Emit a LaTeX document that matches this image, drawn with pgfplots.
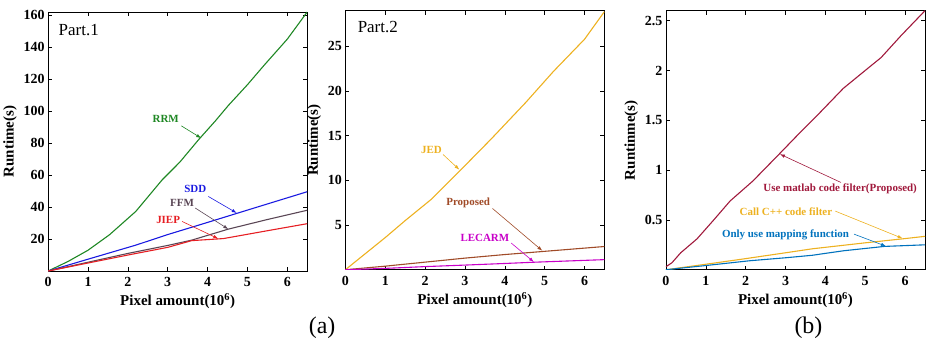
\documentclass[border=0pt]{standalone}
\usepackage{fontspec}
\setmainfont{Liberation Serif}
\usepackage{pgfplots}
\pgfplotsset{compat=1.18}
\usetikzlibrary{arrows.meta}
\definecolor{cgreen}{RGB}{30,135,35}
\definecolor{cblue}{RGB}{25,25,225}
\definecolor{cffm}{RGB}{90,70,85}
\definecolor{cred}{RGB}{230,30,35}
\definecolor{cjed}{RGB}{237,177,32}
\definecolor{cprop}{RGB}{160,75,40}
\definecolor{clec}{RGB}{200,0,200}
\definecolor{cmat}{RGB}{160,25,60}
\definecolor{ccpp}{RGB}{237,177,32}
\definecolor{cmap}{RGB}{0,114,189}
\tikzset{
  ann/.style={font=\fontsize{11}{13}\selectfont\bfseries},
  arr/.style={-{Latex[length=5pt,width=3.5pt]}, line width=0.6pt},
}
\pgfplotsset{
  myax/.style={
    scale only axis, width=260pt, height=260pt,
    xmin=0, xmax=6.5, ymin=0, xtick={0,1,...,6},
    tick align=inside, major tick length=4pt,
    tick style={black, line width=0.6pt},
    axis line style={line width=0.8pt},
    /pgf/number format/assume math mode=true,
    ticklabel style={font=\fontsize{14}{16}\selectfont\bfseries},
    xticklabel style={yshift=-3pt},
    label style={font=\fontsize{15}{17}\selectfont\bfseries},
    xlabel={Pixel amount(10\textsuperscript{6})},
    every axis plot/.append style={line width=1.1pt, no marks},
  },
}
\begin{document}
\begin{tikzpicture}
\path (0,0) rectangle (928pt,341pt);
% Panel 1
\begin{axis}[myax, at={(45pt,69pt)}, anchor=south west, ymax=162,
  ytick={20,40,...,160}, ylabel={Runtime(s)}]
\addplot[cgreen] coordinates {(0,0) (0.5,6) (1,13) (1.54,22.7) (2.2,37.3) (2.86,57) (3.3,68) (3.77,82) (4.2,94) (4.52,103.5) (5,116.5) (5.43,129) (6,145) (6.5,162)};
\addplot[cblue] coordinates {(0,0) (1,7.4) (2.2,16.2) (3,22.8) (4,30.4) (5,38.1) (6.5,49.6)};
\addplot[cffm] coordinates {(0,0) (1,5.5) (2,11) (3,16) (3.6,19.3) (4.52,26.2) (5.5,32.2) (6.5,38)};
\addplot[cred] coordinates {(0,0) (1,5) (2,10) (3,14.8) (3.6,19) (4.4,20.3) (5.5,25.2) (6.5,29.6)};
\node[ann, text=cgreen] at (axis cs:2.95,94.9) {RRM};
\node[ann, text=cblue] at (axis cs:3.69,51.3) {SDD};
\node[ann, text=cffm] at (axis cs:3.36,42.7) {FFM};
\node[ann, text=cred] at (axis cs:3.01,32) {JIEP};
\draw[arr, cgreen] (axis cs:3.34,90.8) -- (axis cs:3.84,83.1);
\draw[arr, cblue] (axis cs:4.02,46.6) -- (axis cs:4.73,36.3);
\draw[arr, cffm] (axis cs:3.69,39.4) -- (axis cs:4.52,26.2);
\draw[arr, cred] (axis cs:3.36,31) -- (axis cs:4.27,20.2);
\node[font=\fontsize{17}{19}\selectfont, anchor=center] at (rel axis cs:0.118,0.932) {Part.1};
\end{axis}
% Panel 2
\begin{axis}[myax, at={(343.3pt,70.3pt)}, anchor=south west, ymax=29,
  ytick={5,10,15,20,25}, ylabel={Runtime(s)}]
\addplot[cjed] coordinates {(0,0) (0.5,1.8) (1,3.6) (1.5,5.5) (2.16,7.9) (2.9,11.2) (3.65,14.6) (4.52,18.7) (5.22,22.2) (6,25.8) (6.5,28.9)};
\addplot[cprop] coordinates {(0,0) (1,0.4) (2,0.85) (3,1.3) (4,1.7) (5,2.06) (6.5,2.6)};
\addplot[clec] coordinates {(0,0) (1,0.15) (2,0.35) (3,0.52) (4,0.7) (4.73,0.84) (6.5,1.13)};
\node[ann, text=cjed] at (axis cs:2.16,13.4) {JED};
\node[ann, text=cprop] at (axis cs:3.08,7.45) {Proposed};
\node[ann, text=clec] at (axis cs:3.5,3.55) {LECARM};
\draw[arr, cjed] (axis cs:2.45,12.9) -- (axis cs:2.86,11.2);
\draw[arr, cprop] (axis cs:3.69,6.86) -- (axis cs:4.94,2.13);
\draw[arr, clec] (axis cs:4.16,2.99) -- (axis cs:4.73,0.86);
\node[font=\fontsize{17}{19}\selectfont, anchor=center] at (rel axis cs:0.125,0.935) {Part.2};
\end{axis}
% Panel 3
\begin{axis}[myax, at={(665pt,70.3pt)}, anchor=south west, ymax=2.6,
  ytick={0.5,1,1.5,2,2.5}, ylabel={Runtinme(s)}]
\addplot[cmat] coordinates {(0,0.03) (0.15,0.07) (0.37,0.17) (0.78,0.31) (1.2,0.5) (1.61,0.69) (2.18,0.89) (2.84,1.16) (3.3,1.35) (3.75,1.53) (4.45,1.82) (5,2.0) (5.4,2.13) (5.9,2.35) (6.5,2.6)};
\addplot[ccpp] coordinates {(0,0) (1,0.055) (1.94,0.108) (3,0.17) (3.67,0.21) (5,0.27) (5.94,0.31) (6.5,0.335)};
\addplot[cmap] coordinates {(0,0) (0.95,0.04) (2.1,0.09) (3,0.12) (3.67,0.145) (4.45,0.19) (5.48,0.234) (6.5,0.25)};
\node[ann, text=cmat] at (axis cs:4.37,0.816) {Use matlab code filter(Proposed)};
\node[ann, text=ccpp] at (axis cs:3.01,0.58) {Call C++ code filter};
\node[ann, text=cmap] at (axis cs:3.0,0.35) {Only use mapping function};
\draw[arr, cmat] (axis cs:4.39,0.876) -- (axis cs:2.86,1.16);
\draw[arr, ccpp] (axis cs:4.25,0.588) -- (axis cs:5.94,0.314);
\draw[arr, cmap] (axis cs:4.72,0.357) -- (axis cs:5.52,0.236);
\end{axis}
\node[font=\fontsize{24}{26}\selectfont] at (320pt,12pt) {(a)};
\node[font=\fontsize{24}{26}\selectfont] at (808pt,12pt) {(b)};
\end{tikzpicture}
\end{document}
